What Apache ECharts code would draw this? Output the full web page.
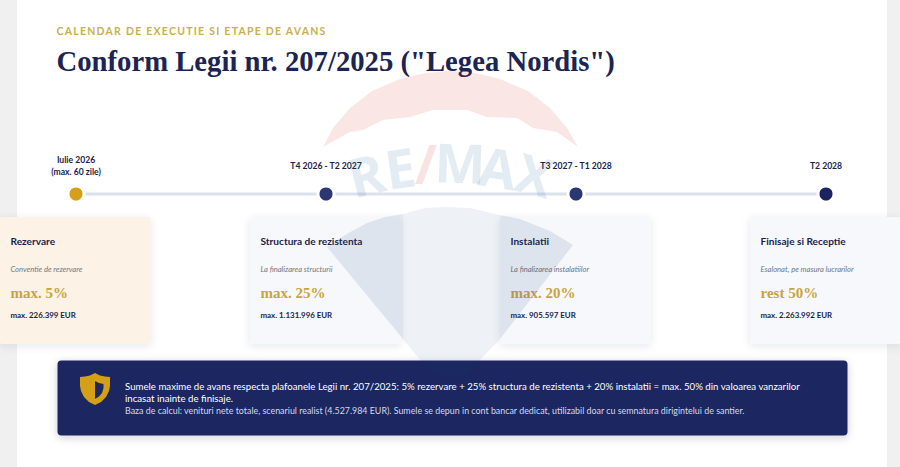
<!DOCTYPE html>
<html>
<head>
<meta charset="utf-8">
<style>
  html, body { margin: 0; padding: 0; background: #fff; }
  #chart { width: 900px; height: 467px; }
  /* zrender has no letter spacing, so it goes on the svg text */
  #chart text[fill="#c9b04e"] { letter-spacing: 1.25px; }
</style>
<script src="https://cdn.jsdelivr.net/npm/echarts@6/dist/echarts.min.js"></script>
</head>
<body>
<div id="chart"></div>
<script>
const eyebrow = "CALENDAR DE EXECUTIE SI ETAPE DE AVANS";
const heading = 'Conform Legii nr. 207/2025 ("Legea Nordis")';

const steps = [0, 1, 2, 3];
const periods = ["Iulie 2026\n(max. 60 zile)", "T4 2026 - T2 2027", "T3 2027 - T1 2028", "T2 2028"];
const stages = ["Rezervare", "Structura de rezistenta", "Instalatii", "Finisaje si Receptie"];
const notes = ["Conventie de rezervare", "La finalizarea structurii", "La finalizarea instalatiilor", "Esalonat, pe masura lucrarilor"];
const shares = ["max. 5%", "max. 25%", "max. 20%", "rest 50%"];
const amounts = ["max. 226.399 EUR", "max. 1.131.996 EUR", "max. 905.597 EUR", "max. 2.263.992 EUR"];

const noteLines = [
  "Sumele maxime de avans respecta plafoanele Legii nr. 207/2025: 5% rezervare + 25% structura de rezistenta + 20% instalatii = max. 50% din valoarea vanzarilor",
  "incasat inainte de finisaje.",
  "Baza de calcul: venituri nete totale, scenariul realist (4.527.984 EUR). Sumele se depun in cont bancar dedicat, utilizabil doar cu semnatura dirigintelui de santier.",
];

const palette = {
  gold: "#d4a017",
  goldText: "#c9a53a",
  navy: "#1e2761",
  ink: "#1b2348",
  muted: "#6f7686",
  line: "#dbe1ec",
  dots: ["#d4a017", "#2b3772", "#2b3772", "#1b2360"],
  cards: ["#fdf2e6", "#f6f8fb", "#f6f8fb", "#f6f8fb"],
};

const sans = 'Lato, "Noto Sans", sans-serif';
const serif = '"Liberation Serif", serif';

const chart = echarts.init(document.getElementById("chart"), null, { renderer: "svg" });

/* -------------------------------------------------------
   WATERMARK (balloon logo behind the content)
------------------------------------------------------- */
const balloon = "rgba(30,70,130,0.11)";
const balloonMid = "rgba(30,80,140,0.075)";
const logoBlue = "rgba(50,105,165,0.13)";

const logoLetters = [
  { t: "R", x: 366, y: 174, r: 0.24, c: logoBlue },
  { t: "E", x: 400, y: 167, r: 0.14, c: logoBlue },
  { t: "/", x: 426, y: 163, r: 0, c: "rgba(225,60,60,0.15)" },
  { t: "M", x: 460, y: 162, r: -0.03, c: logoBlue },
  { t: "A", x: 498, y: 167, r: -0.15, c: logoBlue },
  { t: "X", x: 535, y: 174, r: -0.26, c: logoBlue },
];

const watermark = [
  {
    type: "polygon",
    silent: true,
    z: 50,
    shape: {
      points: [
        [323, 147], [333, 128], [350, 108], [372, 91], [400, 79], [425, 73], [450, 71], [475, 73],
        [500, 79], [528, 91], [550, 108], [567, 128], [578, 147], [557, 132], [533, 128], [517, 118],
        [487, 117], [467, 110], [433, 110], [410, 117], [383, 120], [363, 130], [350, 132],
      ],
    },
    style: { fill: "rgba(225,60,60,0.13)" },
  },
  {
    type: "polygon",
    silent: true,
    z: 50,
    shape: {
      points: [[327, 247], [345, 235], [367, 223], [385, 217], [403, 214], [403, 339]],
    },
    style: { fill: balloon },
  },
  {
    type: "polygon",
    silent: true,
    z: 50,
    shape: {
      points: [[403, 214], [425, 208], [447, 207], [470, 208], [500, 215], [500, 339], [480, 360], [463, 375], [440, 375], [420, 360], [403, 339]],
    },
    style: { fill: balloonMid },
  },
  {
    type: "polygon",
    silent: true,
    z: 50,
    shape: {
      points: [[500, 215], [520, 219], [550, 231], [573, 245], [500, 339]],
    },
    style: { fill: balloon },
  },
].concat(
  logoLetters.map((l) => ({
    type: "text",
    silent: true,
    z: 50,
    x: l.x,
    y: l.y,
    rotation: l.r,
    style: {
      text: l.t,
      fill: l.c,
      font: 'bold 54px "Open Sans", sans-serif',
      textAlign: "center",
      textVerticalAlign: "middle",
    },
  }))
);

/* -------------------------------------------------------
   CARDS + PERIOD LABELS, placed from the timeline scale
------------------------------------------------------- */
const renderStep = (params, api) => {
  const i = api.value(0);
  const [cx, cy] = api.coord([i, 0]);
  const left = cx - 76;
  const tx = left + 10.5;
  const txt = (text, y, font, fill) => ({
    type: "text",
    x: tx,
    y,
    style: { text, font, fill, textVerticalAlign: "middle" },
  });
  return {
    type: "group",
    children: [
      {
        type: "rect",
        shape: { x: left, y: cy + 23, width: 150.5, height: 127, r: 2 },
        style: {
          fill: palette.cards[i],
          shadowBlur: 8,
          shadowColor: "rgba(30,40,80,0.1)",
          shadowOffsetY: 2,
        },
      },
      {
        type: "text",
        x: cx,
        y: cy - 28,
        style: {
          text: periods[i],
          font: "bold 8.6px " + sans,
          lineHeight: 12,
          fill: palette.ink,
          textAlign: "center",
          textVerticalAlign: "middle",
        },
      },
      txt(stages[i], cy + 46.5, "bold 10.1px " + sans, palette.ink),
      txt(notes[i], cy + 75, "italic 7.6px " + sans, palette.muted),
      txt(shares[i], cy + 99, "bold 15px " + serif, palette.goldText),
      txt(amounts[i], cy + 121, "bold 7.9px " + sans, palette.ink),
    ],
  };
};

chart.setOption({
  animation: false,
  backgroundColor: "#f0f0f0",
  title: [
    {
      text: eyebrow,
      left: 51.5,
      top: 20,
      textStyle: { color: "#c9b04e", fontFamily: sans, fontSize: 10.5, fontWeight: "bold" },
    },
    {
      text: heading,
      left: 51.5,
      top: 41,
      textStyle: { color: "#1c2452", fontFamily: serif, fontSize: 28.7, fontWeight: "bold" },
    },
  ],
  grid: { left: 76, right: 74, top: 94, height: 200 },
  xAxis: { type: "value", min: 0, max: 3, show: false },
  yAxis: { type: "value", min: -1, max: 1, show: false },
  graphic: [
    {
      type: "rect",
      z: -10,
      silent: true,
      shape: { x: 17, y: 0, width: 870, height: 467 },
      style: { fill: "#ffffff" },
    },
    {
      type: "rect",
      z: 5,
      silent: true,
      shape: { x: 57.5, y: 360.5, width: 790, height: 75, r: 4 },
      style: { fill: palette.navy, shadowBlur: 8, shadowColor: "rgba(30,40,80,0.2)", shadowOffsetY: 2 },
    },
    {
      // shield
      type: "polygon",
      z: 6,
      silent: true,
      shape: {
        points: [
          [95, 373], [100, 375.5], [105, 376.5], [110, 377], [110, 386], [109, 391], [106, 397], [101, 402],
          [95, 405], [89, 402], [84, 397], [81, 391], [80, 386], [80, 377], [85, 376.5], [90, 375.5],
        ],
      },
      style: { fill: palette.gold },
    },
    {
      type: "polygon",
      z: 7,
      silent: true,
      shape: {
        points: [[95, 381], [99, 383], [103.5, 384], [103.5, 388], [102, 393], [99, 396.5], [95, 399]],
      },
      style: { fill: palette.navy },
    },
    {
      type: "text",
      z: 6,
      silent: true,
      x: 125,
      y: 385.5,
      style: { text: noteLines[0], font: "9.67px " + sans, fill: "#ffffff", textVerticalAlign: "middle" },
    },
    {
      type: "text",
      z: 6,
      silent: true,
      x: 125,
      y: 398,
      style: { text: noteLines[1], font: "9.67px " + sans, fill: "#ffffff", textVerticalAlign: "middle" },
    },
    {
      type: "text",
      z: 6,
      silent: true,
      x: 125,
      y: 410.5,
      style: { text: noteLines[2], font: "8.9px " + sans, fill: "#d3daee", textVerticalAlign: "middle" },
    },
  ].concat(watermark),
  series: [
    {
      type: "custom",
      z: 1,
      silent: true,
      clip: false,
      renderItem: renderStep,
      data: steps,
      encode: { x: 0 },
    },
    {
      type: "line",
      z: 3,
      silent: true,
      symbol: "circle",
      symbolSize: 16,
      lineStyle: { color: palette.line, width: 3 },
      data: steps.map((s) => ({
        value: [s, 0],
        itemStyle: { color: palette.dots[s], borderColor: "#fff", borderWidth: 3 },
      })),
    },
  ],
});
</script>
</body>
</html>
